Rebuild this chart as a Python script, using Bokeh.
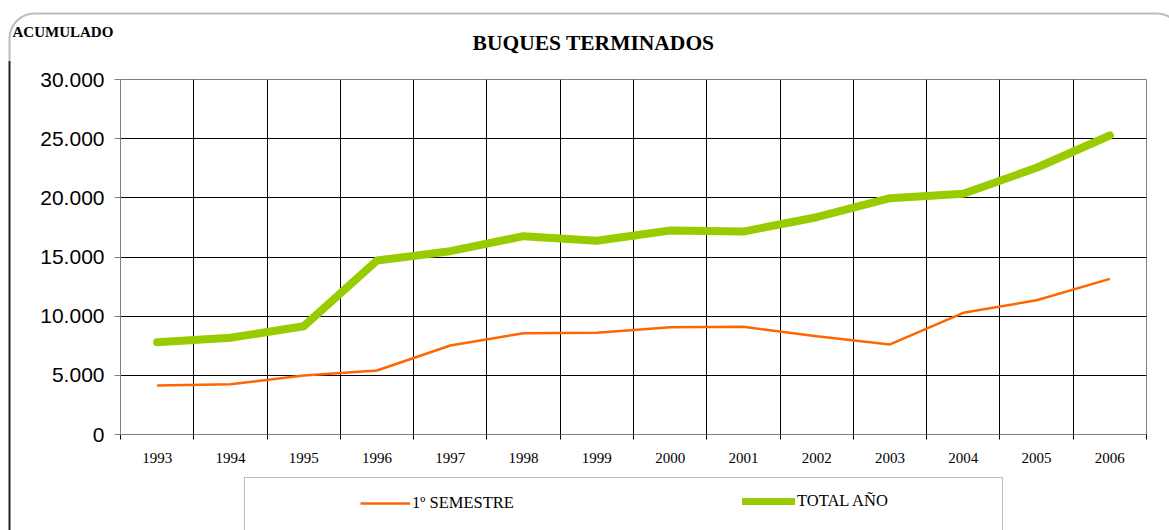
from bokeh.plotting import figure
from bokeh.layouts import column, row
from bokeh.models import (Range1d, FixedTicker, BoxAnnotation, Legend,
                          LegendItem, ColumnDataSource, Span)
from bokeh.core.properties import value
from bokeh.embed import file_html
from bokeh.resources import INLINE

# ---- data ----
years = ["1993", "1994", "1995", "1996", "1997", "1998", "1999",
         "2000", "2001", "2002", "2003", "2004", "2005", "2006"]
semestre = [4140, 4250, 4990, 5410, 7520, 8560, 8590,
            9070, 9100, 8310, 7610, 10280, 11350, 13150]
total_anio = [7800, 8170, 9150, 14700, 15490, 16760, 16370,
              17240, 17150, 18360, 19970, 20340, 22540, 25270]
y_ticks = [0, 5000, 10000, 15000, 20000, 25000, 30000]
y_tick_labels = ["0", "5.000", "10.000", "15.000", "20.000", "25.000", "30.000"]
title_text = "BUQUES TERMINADOS"
corner_text = "ACUMULADO"
series_names = ["1º SEMESTRE", "TOTAL AÑO"]
colors = ["#FF6600", "#99CC00"]
widths = [2.5, 8]

W, H = 1169, 530
TOP_H = 60
STRIP_W = 12
MAIN_H = 410
BOT_H = H - TOP_H - MAIN_H
FRAME_L, FRAME_R, FRAME_T, FRAME_B = 120, 1146, 79, 434
FRAME_COLOR = "#222222"

def blank(width, height, xr, yr):
    f = figure(width=width, height=height, output_backend="svg", toolbar_location=None,
               x_range=xr, y_range=yr, x_axis_location=None, y_axis_location=None,
               min_border=0, title=None)
    f.grid.visible = False
    f.outline_line_color = None
    f.background_fill_color = "white"
    f.border_fill_color = "white"
    return f

# ---------- top strip: titles and top of the rounded frame ----------
top = blank(W, TOP_H, Range1d(0, W), Range1d(TOP_H, 0))
top.add_layout(BoxAnnotation(left=9, right=W + 12, top=13, bottom=TOP_H + 300,
                             fill_alpha=0, line_color=FRAME_COLOR, line_width=2,
                             border_radius=25))
top.text(x=[593], y=[42], text=[title_text], text_align="center", text_baseline="middle",
         text_font=value("Liberation Serif"), text_font_style="bold",
         text_font_size="21.5px", text_color="black")
top.text(x=[12], y=[31], text=[corner_text], text_align="left", text_baseline="middle",
         text_font=value("Liberation Serif"), text_font_style="bold",
         text_font_size="15px", text_color="black")

# ---------- left strip: left edge of the frame ----------
strip = blank(STRIP_W, MAIN_H + BOT_H, Range1d(0, STRIP_W), Range1d(H, TOP_H))
strip.add_layout(Span(location=9, dimension="height", line_color=FRAME_COLOR,
                      line_width=2))

# ---------- main chart ----------
n = len(years)
centers = [i + 0.5 for i in range(n)]
bounds = list(range(n + 1))
src = ColumnDataSource(dict(x=centers, semestre=semestre, total=total_anio))

p = figure(width=W - STRIP_W, height=MAIN_H, output_backend="svg", toolbar_location=None,
           x_range=Range1d(0, n), y_range=Range1d(0, 30000), title=None,
           min_border_left=FRAME_L - STRIP_W, min_border_right=W - FRAME_R,
           min_border_top=FRAME_T - TOP_H, min_border_bottom=(TOP_H + MAIN_H) - FRAME_B)
p.background_fill_color = "white"
p.border_fill_color = "white"
p.outline_line_color = "#808080"
p.outline_line_width = 1

p.xgrid.ticker = FixedTicker(ticks=bounds)
p.ygrid.ticker = FixedTicker(ticks=y_ticks)
for g in (p.xgrid, p.ygrid):
    g.grid_line_color = "black"
    g.grid_line_width = 1

p.yaxis.ticker = FixedTicker(ticks=y_ticks)
p.yaxis.major_label_overrides = {t: l for t, l in zip(y_ticks, y_tick_labels)}
p.yaxis.major_label_text_font = "Liberation Sans"
p.yaxis.major_label_text_font_size = "21px"
p.yaxis.major_label_text_color = "black"
p.yaxis.axis_line_color = "#808080"
p.yaxis.major_tick_line_color = "#808080"
p.yaxis.major_tick_out = 6
p.yaxis.major_tick_in = 0
p.yaxis.minor_tick_line_color = None
p.yaxis.major_label_standoff = 10

p.xaxis.ticker = FixedTicker(ticks=centers, minor_ticks=bounds)
p.xaxis.major_label_overrides = {c: y for c, y in zip(centers, years)}
p.xaxis.major_label_text_font = "Liberation Serif"
p.xaxis.major_label_text_font_size = "15px"
p.xaxis.major_label_text_color = "black"
p.xaxis.axis_line_color = "#808080"
p.xaxis.major_tick_line_color = None
p.xaxis.major_tick_out = 0
p.xaxis.major_tick_in = 0
p.xaxis.minor_tick_line_color = "black"
p.xaxis.minor_tick_out = 5
p.xaxis.minor_tick_in = 0
p.xaxis.major_label_standoff = 13

p.line("x", "semestre", source=src, line_color=colors[0], line_width=widths[0])
p.line("x", "total", source=src, line_color=colors[1], line_width=widths[1],
       line_cap="round", line_join="round")

# ---------- bottom: legend (frame is aligned with the main chart's frame) ----------
bot = blank(W - STRIP_W, BOT_H, Range1d(FRAME_L, FRAME_R), Range1d(H, TOP_H + MAIN_H))
bot.add_layout(BoxAnnotation(left=244, right=1002, top=477, bottom=H + 50,
                             fill_alpha=0, line_color=FRAME_COLOR, line_width=1))
nan = float("nan")
lr1 = bot.line([nan], [nan], line_color=colors[0], line_width=widths[0])
lr2 = bot.line([nan], [nan], line_color=colors[1], line_width=7, line_cap="round")

def make_legend(label, r, loc, gw):
    lg = Legend(items=[LegendItem(label=label, renderers=[r])], location=loc,
                border_line_alpha=0, background_fill_alpha=0, padding=0, margin=0,
                glyph_width=gw, glyph_height=20, label_height=20, label_standoff=2,
                label_text_font="Liberation Serif", label_text_font_size="16.5px",
                label_text_color="black")
    bot.add_layout(lg)

make_legend(series_names[0], lr1, (360 - FRAME_L, H - 513), 50)
make_legend(series_names[1], lr2, (742 - FRAME_L, H - 511), 53)

layout = column(top, row(strip, column(p, bot)))
open("out.html", "w").write(file_html(layout, INLINE))
